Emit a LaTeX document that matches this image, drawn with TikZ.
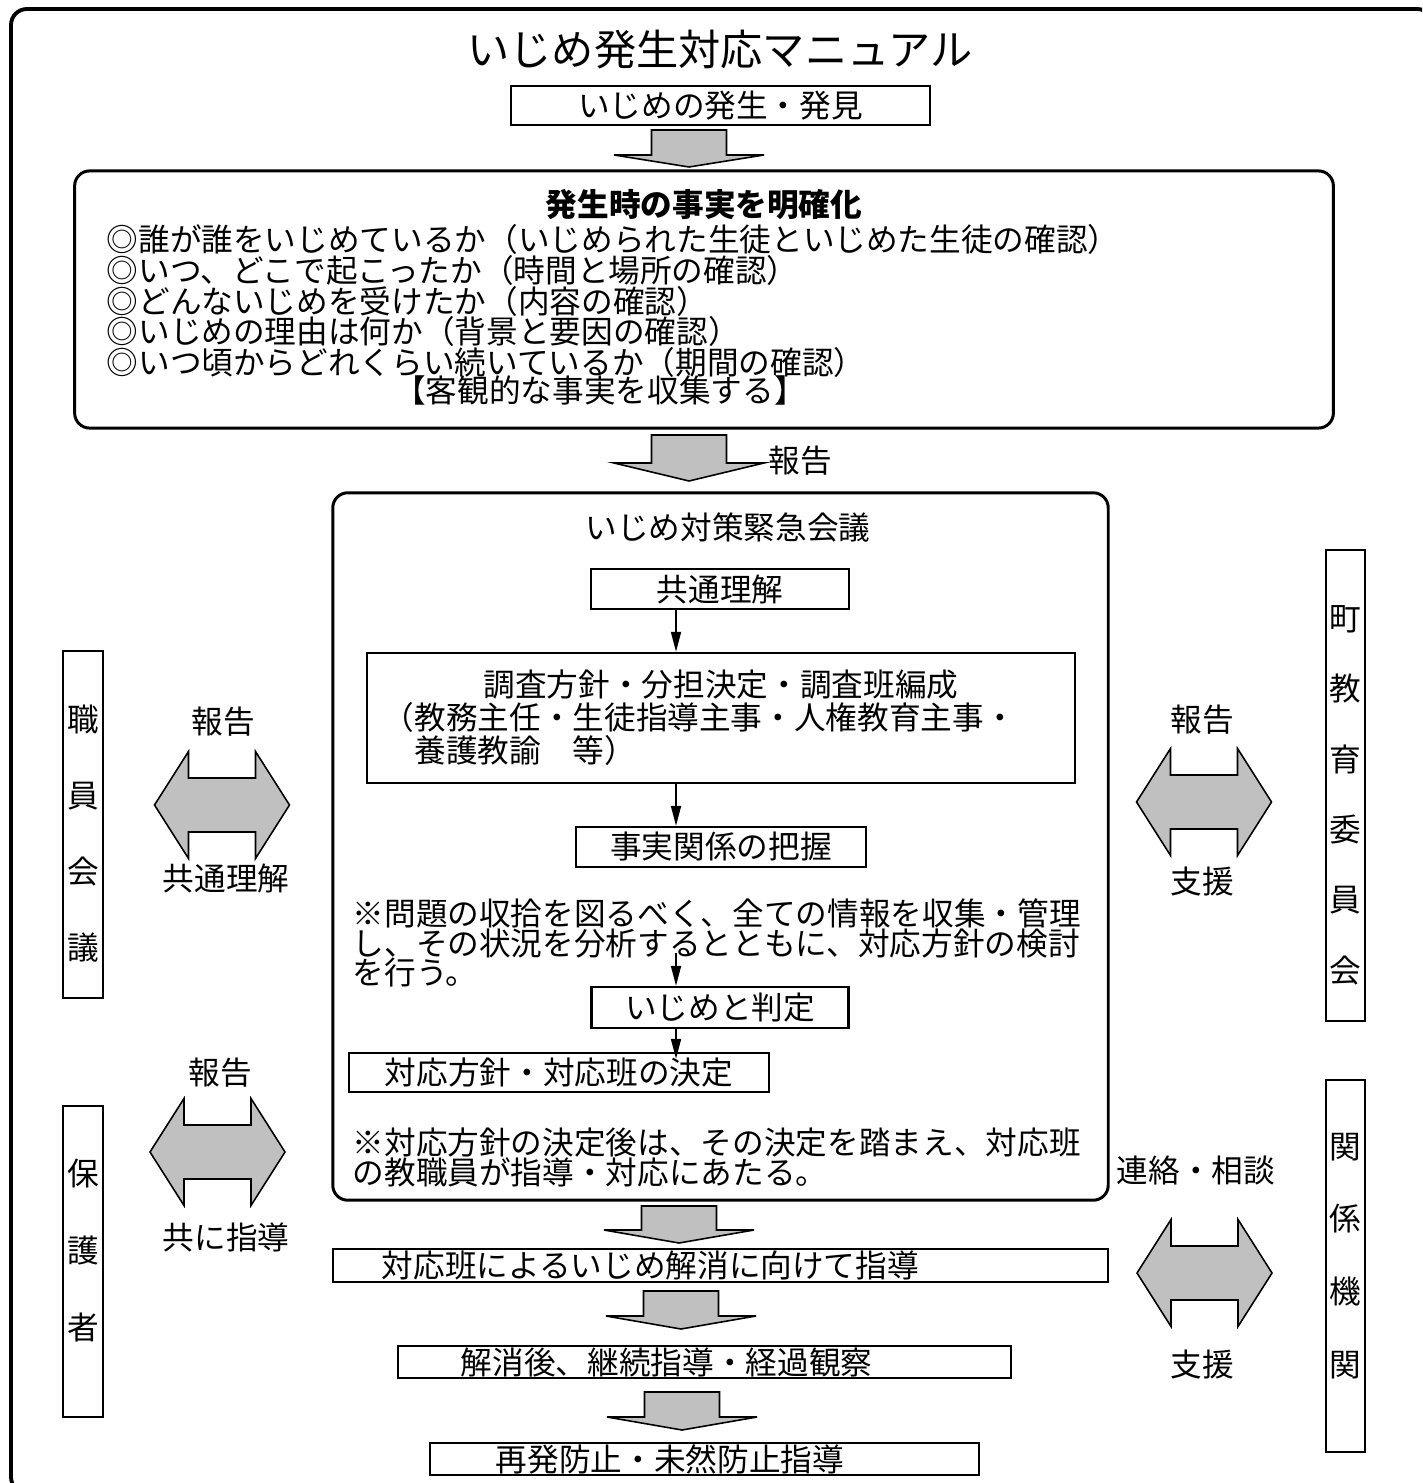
\documentclass[tikz,border=0pt]{standalone}
\usepackage{fontspec}
\setmainfont{Noto Sans CJK JP}
\usetikzlibrary{arrows.meta}
\definecolor{arrowgray}{RGB}{192,192,192}
\lineskiplimit=-100pt

\begin{document}
\begin{tikzpicture}[x=0.01cm, y=-0.01cm,
  txt/.style={inner sep=0pt, font=\fontsize{9}{9}\selectfont},
  flow/.style={draw, line width=0.65pt, inner sep=0pt, font=\fontsize{9}{9.4}\selectfont},
  round/.style={draw, line width=0.85pt, rounded corners=0.15cm, inner sep=0pt},
  frame/.style={draw, line width=1.1pt, rounded corners=0.16cm},
  blk/.style={draw, fill=arrowgray, line width=0.45pt},
  conn/.style={line width=0.5pt, -{Triangle[length=0.2cm, width=0.1cm]}}]
  \useasboundingbox (0,0) rectangle (1422,1483);
  \clip (0,0) rectangle (1422,1483);
  \draw[frame] (11,9) rectangle (1433,1493);

  \node[txt, font=\fontsize{12}{12}\selectfont] (title) at (720,50) {いじめ発生対応マニュアル};
  \node[flow, minimum width=4.19cm, minimum height=0.39cm] (found) at (720.5,105.5) {いじめの発生・発見};

  \node[round, minimum width=12.58cm, minimum height=2.57cm] (facts) at (704,299.5) {};
  \node[txt, font=\fontsize{9}{9}\selectfont\bfseries] (factshead) at (704,205) {発生時の事実を明確化};
  \node[txt, font=\fontsize{9}{8.7}\selectfont, align=left, anchor=west] (checks) at (106,301)
    {◎誰が誰をいじめているか（いじめられた生徒といじめた生徒の確認）\\
     ◎いつ、どこで起こったか（時間と場所の確認）\\
     ◎どんないじめを受けたか（内容の確認）\\
     ◎いじめの理由は何か（背景と要因の確認）\\
     ◎いつ頃からどれくらい続いているか（期間の確認）};
  \node[txt] (collect) at (600,390) {【客観的な事実を収集する】};
  \node[txt] (report) at (800,461) {報告};

  % emergency meeting
  \node[round, minimum width=7.75cm, minimum height=7.07cm] (meeting) at (720.5,846.5) {};
  \node[txt] (meetinghead) at (728,528) {いじめ対策緊急会議};
  \node[flow, minimum width=2.58cm, minimum height=0.40cm] (common) at (720,589) {共通理解};
  \node[flow, minimum width=7.08cm, minimum height=1.30cm, align=left] (plan) at (721,718)
    {\makebox[6.76cm]{調査方針・分担決定・調査班編成}\\
     （教務主任・生徒指導主事・人権教育主事・\\
     　養護教諭　等）};
  \node[flow, minimum width=2.90cm, minimum height=0.40cm] (grasp) at (721,847) {事実関係の把握};
  \node[txt, font=\fontsize{9}{8.5}\selectfont, align=left, anchor=west] (note1) at (352,943)
    {※問題の収拾を図るべく、全ての情報を収集・管理\\
     し、その状況を分析するとともに、対応方針の検討\\
     を行う。};
  \node[flow, minimum width=2.57cm, minimum height=0.41cm] (judge) at (720,1007.5) {いじめと判定};
  \node[flow, minimum width=4.20cm, minimum height=0.39cm] (decide) at (559,1072.5) {対応方針・対応班の決定};
  \node[txt, font=\fontsize{9}{8.5}\selectfont, align=left, anchor=west] (note2) at (352,1157.5)
    {※対応方針の決定後は、その決定を踏まえ、対応班\\
     の教職員が指導・対応にあたる。};

  \coordinate (axis) at (676,0);
  \coordinate (resume) at (676,953);
  \draw[conn] (common.south -| axis) -- (plan.north -| axis);
  \draw[conn] (plan.south -| axis) -- (grasp.north -| axis);
  \draw[conn] (resume) -- (judge.north -| axis);
  \draw[conn, shorten >=-0.07cm] (judge.south -| axis) -- (decide.north -| axis);

  \node[flow, text width=6.77cm, inner xsep=0.49cm, minimum height=0.33cm, align=left] (act) at (720.5,1265.5) {対応班によるいじめ解消に向けて指導};
  \node[flow, text width=4.87cm, inner xsep=0.63cm, minimum height=0.32cm, align=left] (after) at (704.5,1362) {解消後、継続指導・経過観察};
  \node[flow, text width=4.17cm, inner xsep=0.66cm, minimum height=0.32cm, align=left] (prevent) at (704.5,1459) {再発防止・未然防止指導};

  \foreach \x/\ya/\yb/\yc in {689/130/155/167, 689/435/463/481, 679/1206/1230/1243,
                              681/1291/1316/1329, 682/1392/1417/1430}
    \draw[blk] (\x-37.5,\ya) -- (\x+37.5,\ya) -- (\x+37.5,\yb) -- (\x+75,\yb)
      -- (\x,\yc) -- (\x-75,\yb) -- (\x-37.5,\yb) -- cycle;

  % side boxes
  \node[flow, minimum width=0.40cm, minimum height=3.47cm] (staff) at (83,824.5) {};
  \node[txt, font=\fontsize{9}{21.6}\selectfont, align=center] (staffname) at (83,834) {職\\員\\会\\議};
  \node[flow, minimum width=0.40cm, minimum height=3.11cm] (parents) at (83,1261.5) {};
  \node[txt, font=\fontsize{9}{22}\selectfont, align=center] (parentsname) at (83,1250.5) {保\\護\\者};
  \node[flow, minimum width=0.39cm, minimum height=4.71cm] (town) at (1345.5,785.5) {};
  \node[txt, font=\fontsize{9}{20}\selectfont, align=center] (townname) at (1345.5,795) {町\\教\\育\\委\\員\\会};
  \node[flow, minimum width=0.39cm, minimum height=3.72cm] (agency) at (1345.5,1266) {};
  \node[txt, font=\fontsize{9}{20.7}\selectfont, align=center] (agencyname) at (1345.5,1256) {関\\係\\機\\関};

  \foreach \x/\y in {222/805, 217.5/1152, 1204/802, 1204.5/1273}
    \draw[blk] (\x-67.5,\y) -- (\x-33.5,\y-53.5) -- (\x-33.5,\y-27) -- (\x+33.5,\y-27)
      -- (\x+33.5,\y-53.5) -- (\x+67.5,\y) -- (\x+33.5,\y+53.5) -- (\x+33.5,\y+27)
      -- (\x-33.5,\y+27) -- (\x-33.5,\y+53.5) -- cycle;

  \node[txt] (staffreport) at (223,722) {報告};
  \node[txt] (staffshare) at (226,878) {共通理解};
  \node[txt] (parentsreport) at (220,1073) {報告};
  \node[txt] (parentsguide) at (226,1237) {共に指導};
  \node[txt] (townreport) at (1202,720) {報告};
  \node[txt] (townsupport) at (1202,882) {支援};
  \node[txt] (agencycontact) at (1196,1170) {連絡・相談};
  \node[txt] (agencysupport) at (1202,1365) {支援};
\end{tikzpicture}
\end{document}
